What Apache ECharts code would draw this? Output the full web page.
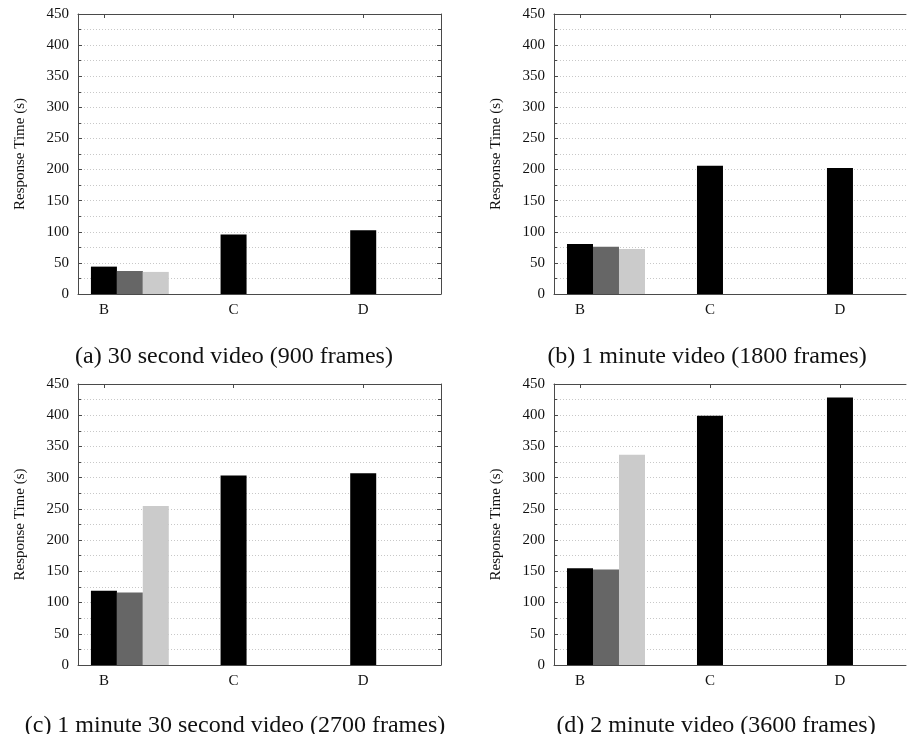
<!DOCTYPE html>
<html>
<head>
<meta charset="utf-8">
<title>Response Time by Video Length</title>
<script src="https://cdn.jsdelivr.net/npm/echarts@6/dist/echarts.min.js"></script>
<style>
  html, body { margin: 0; padding: 0; background: #fff; }
  #chart { width: 907px; height: 734px; }
</style>
</head>
<body>
<div id="chart"></div>
<script>
// Configurations on the x axis and where each bar of a group sits
const categories = ['B', 'C', 'D'];
const categoryPositions = [0, 1, 2];
const groupOffsets = [0, 0.2, 0.4];

// Response time (s) per panel: first bar of every configuration, plus the extra B bars
const blackBars30s = [44, 95.5, 102.5];
const darkBars30s = [37];
const lightBars30s = [35.5];

const blackBars60s = [80.5, 206, 202.5];
const darkBars60s = [76];
const lightBars60s = [72.5];

const blackBars90s = [119, 303.5, 307];
const darkBars90s = [116];
const lightBars90s = [254.5];

const blackBars120s = [155, 399, 428.5];
const darkBars120s = [153];
const lightBars120s = [336.5];

const captions = [
  '(a) 30 second video (900 frames)',
  '(b) 1 minute video (1800 frames)',
  '(c) 1 minute 30 second video (2700 frames)',
  '(d) 2 minute video (3600 frames)'
];

const yMin = 0, yMax = 450, yStep = 50;
const yTitle = 'Response Time (s)';

const panels = [
  { black: blackBars30s, dark: darkBars30s, light: lightBars30s },
  { black: blackBars60s, dark: darkBars60s, light: lightBars60s },
  { black: blackBars90s, dark: darkBars90s, light: lightBars90s },
  { black: blackBars120s, dark: darkBars120s, light: lightBars120s }
];

// right-hand panels run past the page edge, so their x range is cut short
const gridBoxes = [
  { left: 78, top: 14, width: 363, height: 280, xMax: 2.6, rightEdge: true },
  { left: 554, top: 14, width: 352, height: 280, xMax: 2.508, rightEdge: false },
  { left: 78, top: 384, width: 363, height: 281, xMax: 2.6, rightEdge: true },
  { left: 554, top: 384, width: 352, height: 281, xMax: 2.508, rightEdge: false }
];
const xMin = -0.2;
const captionSpots = [
  { x: 229, y: 352 },
  { x: 702, y: 352 },
  { x: 230, y: 721 },
  { x: 711, y: 721 }
];

const FONT = 'Liberation Serif';
const FRAME = '#4a4a4a';
const gridLine = { show: true, lineStyle: { color: '#c8c8c8', type: [1, 2], width: 1 } };

const grid = [], xAxis = [], yAxis = [], series = [], title = [];

panels.forEach((p, i) => {
  const box = gridBoxes[i];
  grid.push({
    show: false,
    left: box.left, top: box.top, width: box.width, height: box.height
  });

  // bottom axis with category names, top axis mirrors the ticks
  xAxis.push({
    type: 'value', gridIndex: i, min: xMin, max: box.xMax, position: 'bottom',
    axisLine: { show: true, onZero: false, lineStyle: { color: FRAME } },
    axisTick: { show: true, inside: true, length: 4, customValues: categoryPositions, lineStyle: { color: FRAME } },
    axisLabel: {
      show: true, customValues: categoryPositions, margin: 9,
      fontFamily: FONT, fontSize: 15, color: '#111',
      formatter: v => categories[categoryPositions.indexOf(Math.round(v))] || ''
    },
    splitLine: { show: false }
  });
  xAxis.push({
    type: 'value', gridIndex: i, min: xMin, max: box.xMax, position: 'top',
    axisLine: { show: true, onZero: false, lineStyle: { color: FRAME } },
    axisTick: { show: true, inside: true, length: 4, customValues: categoryPositions, lineStyle: { color: FRAME } },
    axisLabel: { show: false },
    splitLine: { show: false }
  });

  yAxis.push({
    type: 'value', gridIndex: i, min: yMin, max: yMax, interval: yStep, position: 'left',
    name: yTitle, nameLocation: 'middle', nameGap: 50, nameRotate: 90,
    nameTextStyle: { fontFamily: FONT, fontSize: 15, color: '#111' },
    axisLine: { show: true, onZero: false, lineStyle: { color: FRAME } },
    axisTick: { show: true, inside: true, length: 4, lineStyle: { color: FRAME } },
    minorTick: { show: true, splitNumber: 2, length: 3, lineStyle: { color: FRAME } },
    axisLabel: { fontFamily: FONT, fontSize: 15, color: '#111', margin: 9 },
    splitLine: gridLine,
    minorSplitLine: gridLine
  });
  yAxis.push({
    type: 'value', gridIndex: i, min: yMin, max: yMax, interval: yStep, position: 'right',
    show: box.rightEdge,
    axisLine: { show: true, onZero: false, lineStyle: { color: FRAME } },
    axisTick: { show: true, inside: true, length: 4, lineStyle: { color: FRAME } },
    minorTick: { show: true, splitNumber: 2, length: 3, lineStyle: { color: FRAME } },
    axisLabel: { show: false },
    splitLine: { show: false }
  });

  const base = {
    type: 'bar', xAxisIndex: 2 * i, yAxisIndex: 2 * i,
    barWidth: 26, barGap: '-100%', silent: true
  };
  series.push(Object.assign({}, base, {
    name: 'black' + i,
    itemStyle: { color: '#000' },
    data: p.black.map((v, k) => [categoryPositions[k] + groupOffsets[0], v])
  }));
  series.push(Object.assign({}, base, {
    name: 'dark' + i,
    itemStyle: { color: '#666' },
    data: p.dark.map((v, k) => [categoryPositions[k] + groupOffsets[1], v])
  }));
  series.push(Object.assign({}, base, {
    name: 'light' + i,
    itemStyle: { color: '#cbcbcb' },
    data: p.light.map((v, k) => [categoryPositions[k] + groupOffsets[2], v])
  }));

  title.push({
    text: captions[i],
    left: captionSpots[i].x, top: captionSpots[i].y,
    textAlign: 'center', textVerticalAlign: 'middle',
    textStyle: { fontFamily: FONT, fontSize: 24, fontWeight: 'normal', color: '#111' }
  });
});

const chart = echarts.init(document.getElementById('chart'), null, { renderer: 'canvas' });
chart.setOption({
  animation: false,
  backgroundColor: '#fff',
  title, grid, xAxis, yAxis, series
});
</script>
</body>
</html>
